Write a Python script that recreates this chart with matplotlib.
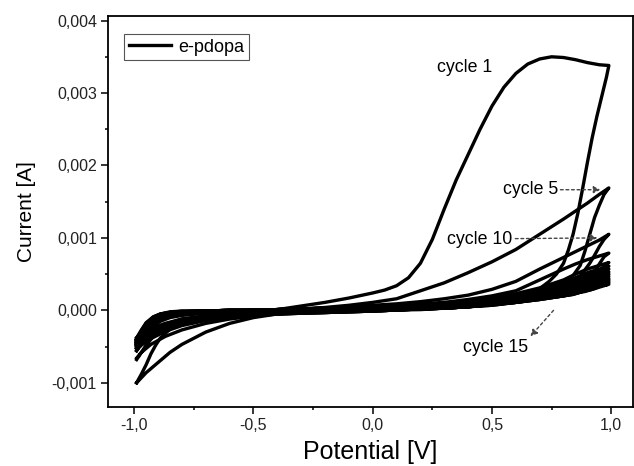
import matplotlib
matplotlib.use("Agg")
import matplotlib.pyplot as plt
import numpy as np
from matplotlib.ticker import FuncFormatter, MultipleLocator

plt.rcParams['font.family'] = ['Liberation Sans', 'DejaVu Sans']

# ---------------- data (potential in V, current in mA) ----------------
# cycle 1
E1_fwd = [-0.99, -0.97, -0.95, -0.93, -0.91, -0.89, -0.85, -0.8, -0.7, -0.6, -0.5, -0.4,
          -0.3, -0.2, -0.1, 0.0, 0.05, 0.1, 0.15, 0.2, 0.25, 0.3, 0.35, 0.4, 0.45, 0.5,
          0.55, 0.6, 0.65, 0.7, 0.75, 0.8, 0.85, 0.9, 0.95, 0.99]
I1_fwd = [-1.0, -0.88, -0.75, -0.6, -0.48, -0.38, -0.26, -0.19, -0.12, -0.07, -0.03, 0.01,
          0.06, 0.11, 0.17, 0.24, 0.28, 0.34, 0.45, 0.65, 0.98, 1.4, 1.8, 2.15, 2.5, 2.82,
          3.08, 3.27, 3.4, 3.47, 3.5, 3.49, 3.46, 3.42, 3.39, 3.38]
E1_rev = [0.99, 0.98, 0.96, 0.94, 0.92, 0.9, 0.88, 0.86, 0.84, 0.82, 0.8, 0.77, 0.74, 0.7,
          0.65, 0.6, 0.5, 0.4, 0.2, 0.0, -0.2, -0.3, -0.4, -0.5, -0.6, -0.7, -0.8, -0.85,
          -0.9, -0.95, -0.99]
I1_rev = [3.38, 3.22, 2.95, 2.68, 2.38, 2.04, 1.68, 1.34, 1.05, 0.83, 0.65, 0.5, 0.4, 0.3,
          0.21, 0.15, 0.09, 0.05, 0.02, 0.0, -0.01, -0.02, -0.05, -0.1, -0.18, -0.3, -0.47,
          -0.58, -0.72, -0.86, -1.0]

# common potential grids for the later cycles
E_fwd = [-0.99, -0.97, -0.95, -0.92, -0.89, -0.85, -0.8, -0.7, -0.6, -0.5, -0.4, -0.3, -0.2,
         -0.1, 0.0, 0.1, 0.2, 0.3, 0.4, 0.5, 0.6, 0.7, 0.8, 0.85, 0.9, 0.95, 0.99]
E_rev = [0.99, 0.97, 0.95, 0.93, 0.91, 0.89, 0.87, 0.84, 0.8, 0.7, 0.6, 0.5, 0.4, 0.3, 0.2,
         0.0, -0.2, -0.4, -0.5, -0.6, -0.7, -0.8, -0.87, -0.93, -0.97, -0.99]

I2_fwd = [-0.68, -0.58, -0.48, -0.36, -0.27, -0.19, -0.13, -0.08, -0.05, -0.03, -0.01, 0.01, 0.04,
          0.07, 0.11, 0.16, 0.27, 0.38, 0.52, 0.67, 0.84, 1.05, 1.26, 1.37, 1.48, 1.6, 1.69]
I2_rev = [1.69, 1.6, 1.45, 1.28, 1.05, 0.82, 0.62, 0.48, 0.4, 0.28, 0.18, 0.12, 0.08, 0.05, 0.03,
          0.0, -0.02, -0.05, -0.08, -0.12, -0.18, -0.27, -0.36, -0.47, -0.58, -0.66]
I3_fwd = [-0.56, -0.44, -0.34, -0.22, -0.15, -0.1, -0.07, -0.04, -0.02, -0.01, 0.0, 0.01, 0.03,
          0.05, 0.07, 0.09, 0.12, 0.16, 0.21, 0.29, 0.4, 0.57, 0.73, 0.81, 0.89, 0.97, 1.05]
I3_rev = [1.05, 0.98, 0.88, 0.76, 0.65, 0.56, 0.47, 0.4, 0.34, 0.24, 0.16, 0.1, 0.07, 0.04, 0.02,
          -0.01, -0.03, -0.05, -0.07, -0.1, -0.14, -0.21, -0.29, -0.39, -0.48, -0.55]
I4_fwd = [-0.52, -0.4, -0.3, -0.19, -0.12, -0.08, -0.05, -0.03, -0.01, 0.0, 0.01, 0.02, 0.03,
          0.04, 0.05, 0.07, 0.09, 0.11, 0.15, 0.2, 0.27, 0.42, 0.57, 0.64, 0.7, 0.75, 0.79]
I4_rev = [0.79, 0.74, 0.64, 0.54, 0.46, 0.4, 0.35, 0.31, 0.27, 0.2, 0.14, 0.1, 0.06, 0.04, 0.02,
          -0.01, -0.03, -0.05, -0.07, -0.09, -0.13, -0.19, -0.26, -0.35, -0.44, -0.52]
I5_fwd = [-0.5, -0.38, -0.27, -0.16, -0.1, -0.06, -0.04, -0.02, -0.01, 0.0, 0.01, 0.02, 0.03,
          0.04, 0.05, 0.06, 0.08, 0.1, 0.13, 0.17, 0.23, 0.31, 0.42, 0.5, 0.57, 0.62, 0.66]
I5_rev = [0.66, 0.61, 0.52, 0.44, 0.38, 0.34, 0.31, 0.28, 0.25, 0.19, 0.14, 0.1, 0.06, 0.04, 0.02,
          -0.01, -0.03, -0.05, -0.06, -0.08, -0.12, -0.18, -0.25, -0.34, -0.43, -0.5]
I6_fwd = [-0.48, -0.36, -0.25, -0.15, -0.09, -0.05, -0.03, -0.02, -0.01, 0.0, 0.01, 0.02, 0.03,
          0.04, 0.05, 0.06, 0.07, 0.09, 0.12, 0.16, 0.21, 0.28, 0.38, 0.45, 0.52, 0.57, 0.61]
I6_rev = [0.61, 0.56, 0.48, 0.41, 0.36, 0.32, 0.3, 0.27, 0.24, 0.18, 0.13, 0.09, 0.06, 0.04, 0.02,
          -0.01, -0.03, -0.04, -0.06, -0.08, -0.11, -0.17, -0.24, -0.32, -0.41, -0.48]
I7_fwd = [-0.47, -0.35, -0.24, -0.14, -0.08, -0.05, -0.03, -0.02, -0.01, 0.0, 0.01, 0.02, 0.03,
          0.04, 0.05, 0.06, 0.07, 0.09, 0.11, 0.15, 0.2, 0.26, 0.35, 0.42, 0.48, 0.53, 0.57]
I7_rev = [0.57, 0.52, 0.45, 0.39, 0.34, 0.31, 0.29, 0.26, 0.23, 0.18, 0.13, 0.09, 0.06, 0.04, 0.02,
          -0.01, -0.02, -0.04, -0.05, -0.07, -0.1, -0.16, -0.23, -0.31, -0.4, -0.47]
I8_fwd = [-0.46, -0.34, -0.23, -0.13, -0.08, -0.04, -0.03, -0.01, 0.0, 0.0, 0.01, 0.02, 0.03,
          0.04, 0.05, 0.06, 0.07, 0.08, 0.1, 0.14, 0.18, 0.24, 0.33, 0.39, 0.45, 0.5, 0.53]
I8_rev = [0.53, 0.49, 0.42, 0.37, 0.33, 0.3, 0.28, 0.25, 0.22, 0.17, 0.12, 0.09, 0.06, 0.04, 0.02,
          0.0, -0.02, -0.04, -0.05, -0.07, -0.1, -0.15, -0.22, -0.3, -0.39, -0.46]
I9_fwd = [-0.45, -0.33, -0.22, -0.12, -0.07, -0.04, -0.02, -0.01, 0.0, 0.0, 0.01, 0.02, 0.03,
          0.03, 0.04, 0.05, 0.06, 0.08, 0.1, 0.13, 0.17, 0.23, 0.31, 0.37, 0.42, 0.47, 0.5]
I9_rev = [0.5, 0.46, 0.4, 0.35, 0.32, 0.29, 0.27, 0.24, 0.22, 0.17, 0.12, 0.08, 0.05, 0.03, 0.02,
          0.0, -0.02, -0.03, -0.05, -0.07, -0.1, -0.15, -0.21, -0.29, -0.38, -0.45]
I10_fwd = [-0.44, -0.32, -0.21, -0.11, -0.07, -0.04, -0.02, -0.01, 0.0, 0.0, 0.01, 0.02, 0.02,
           0.03, 0.04, 0.05, 0.06, 0.07, 0.09, 0.12, 0.16, 0.22, 0.3, 0.35, 0.4, 0.44, 0.47]
I10_rev = [0.47, 0.43, 0.38, 0.34, 0.31, 0.28, 0.26, 0.24, 0.21, 0.16, 0.12, 0.08, 0.05, 0.03,
           0.02, 0.0, -0.02, -0.03, -0.04, -0.06, -0.09, -0.14, -0.21, -0.29, -0.37, -0.44]
I11_fwd = [-0.43, -0.31, -0.2, -0.11, -0.06, -0.03, -0.02, -0.01, 0.0, 0.0, 0.01, 0.01, 0.02,
           0.03, 0.04, 0.05, 0.06, 0.07, 0.09, 0.12, 0.15, 0.21, 0.28, 0.33, 0.38, 0.41, 0.44]
I11_rev = [0.44, 0.41, 0.37, 0.33, 0.3, 0.28, 0.26, 0.23, 0.21, 0.16, 0.11, 0.08, 0.05, 0.03,
           0.02, 0.0, -0.02, -0.03, -0.04, -0.06, -0.09, -0.14, -0.2, -0.28, -0.36, -0.43]
I12_fwd = [-0.42, -0.3, -0.19, -0.1, -0.06, -0.03, -0.02, -0.01, 0.0, 0.0, 0.01, 0.01, 0.02,
           0.03, 0.04, 0.04, 0.05, 0.07, 0.08, 0.11, 0.15, 0.2, 0.27, 0.32, 0.36, 0.39, 0.42]
I12_rev = [0.42, 0.39, 0.35, 0.32, 0.3, 0.28, 0.26, 0.23, 0.2, 0.16, 0.11, 0.08, 0.05, 0.03,
           0.02, 0.0, -0.02, -0.03, -0.04, -0.06, -0.09, -0.13, -0.2, -0.27, -0.35, -0.42]
I13_fwd = [-0.41, -0.29, -0.18, -0.1, -0.05, -0.03, -0.02, -0.01, 0.0, 0.0, 0.01, 0.01, 0.02,
           0.03, 0.03, 0.04, 0.05, 0.06, 0.08, 0.11, 0.14, 0.19, 0.26, 0.3, 0.34, 0.37, 0.4]
I13_rev = [0.4, 0.37, 0.34, 0.31, 0.29, 0.27, 0.25, 0.23, 0.2, 0.15, 0.11, 0.08, 0.05, 0.03,
           0.02, 0.0, -0.01, -0.03, -0.04, -0.06, -0.08, -0.13, -0.19, -0.27, -0.34, -0.41]
I14_fwd = [-0.4, -0.28, -0.18, -0.09, -0.05, -0.03, -0.01, -0.01, 0.0, 0.0, 0.01, 0.01, 0.02,
           0.02, 0.03, 0.04, 0.05, 0.06, 0.08, 0.1, 0.14, 0.19, 0.25, 0.29, 0.33, 0.36, 0.38]
I14_rev = [0.38, 0.36, 0.33, 0.3, 0.28, 0.27, 0.25, 0.22, 0.2, 0.15, 0.11, 0.07, 0.05, 0.03,
           0.02, 0.0, -0.01, -0.03, -0.04, -0.05, -0.08, -0.12, -0.19, -0.26, -0.33, -0.4]
I15_fwd = [-0.38, -0.27, -0.17, -0.09, -0.05, -0.02, -0.01, -0.01, 0.0, 0.0, 0.01, 0.01, 0.02,
           0.02, 0.03, 0.04, 0.05, 0.06, 0.07, 0.1, 0.13, 0.18, 0.24, 0.28, 0.31, 0.34, 0.36]
I15_rev = [0.36, 0.34, 0.32, 0.3, 0.28, 0.26, 0.25, 0.22, 0.2, 0.15, 0.11, 0.07, 0.05, 0.03,
           0.01, 0.0, -0.01, -0.03, -0.04, -0.05, -0.08, -0.12, -0.18, -0.25, -0.32, -0.38]

later_cycles = [(I2_fwd, I2_rev), (I3_fwd, I3_rev), (I4_fwd, I4_rev), (I5_fwd, I5_rev),
                (I6_fwd, I6_rev), (I7_fwd, I7_rev), (I8_fwd, I8_rev), (I9_fwd, I9_rev),
                (I10_fwd, I10_rev), (I11_fwd, I11_rev), (I12_fwd, I12_rev), (I13_fwd, I13_rev),
                (I14_fwd, I14_rev), (I15_fwd, I15_rev)]

legend_label = "e-pdopa"
x_ticks = [-1.0, -0.5, 0.0, 0.5, 1.0]
y_ticks = [-0.001, 0.0, 0.001, 0.002, 0.003, 0.004]

# ---------------- figure ----------------
fig = plt.figure(figsize=(6.34, 4.66), dpi=100)
ax = fig.add_axes([108 / 634, 1 - 406.7 / 466, (632.7 - 108) / 634, (406.7 - 15.5) / 466])

mA = 1e-3
lw = 2.4
E_c1 = E1_fwd + E1_rev
I_c1 = list(np.array(I1_fwd + I1_rev) * mA)
ax.plot(E_c1, I_c1, color='black', lw=lw, solid_joinstyle='round', label=legend_label)
for fwd, rev in reversed(later_cycles):
    ax.plot(E_fwd + E_rev, np.array(fwd + rev) * mA, color='black', lw=lw,
            solid_joinstyle='round')

ax.set_xlim(-1.11, 1.09)
ax.set_ylim(-0.00133, 0.00407)
ax.set_xticks(x_ticks)
ax.set_yticks(y_ticks)
ax.xaxis.set_minor_locator(MultipleLocator(0.25))
ax.yaxis.set_minor_locator(MultipleLocator(0.0005))
ax.xaxis.set_major_formatter(FuncFormatter(lambda v, p: f"{v:.1f}".replace('.', ',').replace('-0,0', '0,0')))
ax.yaxis.set_major_formatter(FuncFormatter(lambda v, p: f"{v:.3f}".replace('.', ',').replace('-0,000', '0,000')))
ax.tick_params(which='major', direction='out', length=5, width=1.1, labelsize=11.5, pad=3,
               labelcolor='#222222')
ax.tick_params(which='minor', direction='out', length=2.5, width=1.1)
for s in ax.spines.values():
    s.set_linewidth(1.3)

ax.set_xlabel("Potential [V]", fontsize=18, labelpad=5)
ax.set_ylabel("Current [A]", fontsize=15, labelpad=11)

leg = ax.legend(loc='upper left', bbox_to_anchor=(0.0314, 0.9527), borderaxespad=0,
                fontsize=13, fancybox=False, framealpha=1, edgecolor='#555555',
                handlelength=2.3, handletextpad=0.45, borderpad=0.25)
leg.get_frame().set_linewidth(0.8)

arrow_kw = dict(arrowstyle='-|>', color='#444444', lw=1.0, linestyle=(0, (2, 2)),
                mutation_scale=10, shrinkA=0, shrinkB=0)
ax.text(0.385, 0.00335, "cycle 1", fontsize=12.8, ha='center', va='center')
ax.text(0.779, 0.001665, "cycle 5", fontsize=12.8, ha='right', va='center')
ax.annotate("", xy=(0.955, 0.001665), xytext=(0.787, 0.001665), arrowprops=arrow_kw)
ax.text(0.585, 0.000975, "cycle 10", fontsize=12.8, ha='right', va='center')
ax.annotate("", xy=(0.942, 0.0010), xytext=(0.598, 0.00099), arrowprops=arrow_kw)
ax.text(0.515, -0.000515, "cycle 15", fontsize=12.8, ha='center', va='center')
ax.annotate("", xy=(0.661, -0.00036), xytext=(0.758, 0.0), arrowprops=arrow_kw)

fig.savefig("out.png", dpi=100)
